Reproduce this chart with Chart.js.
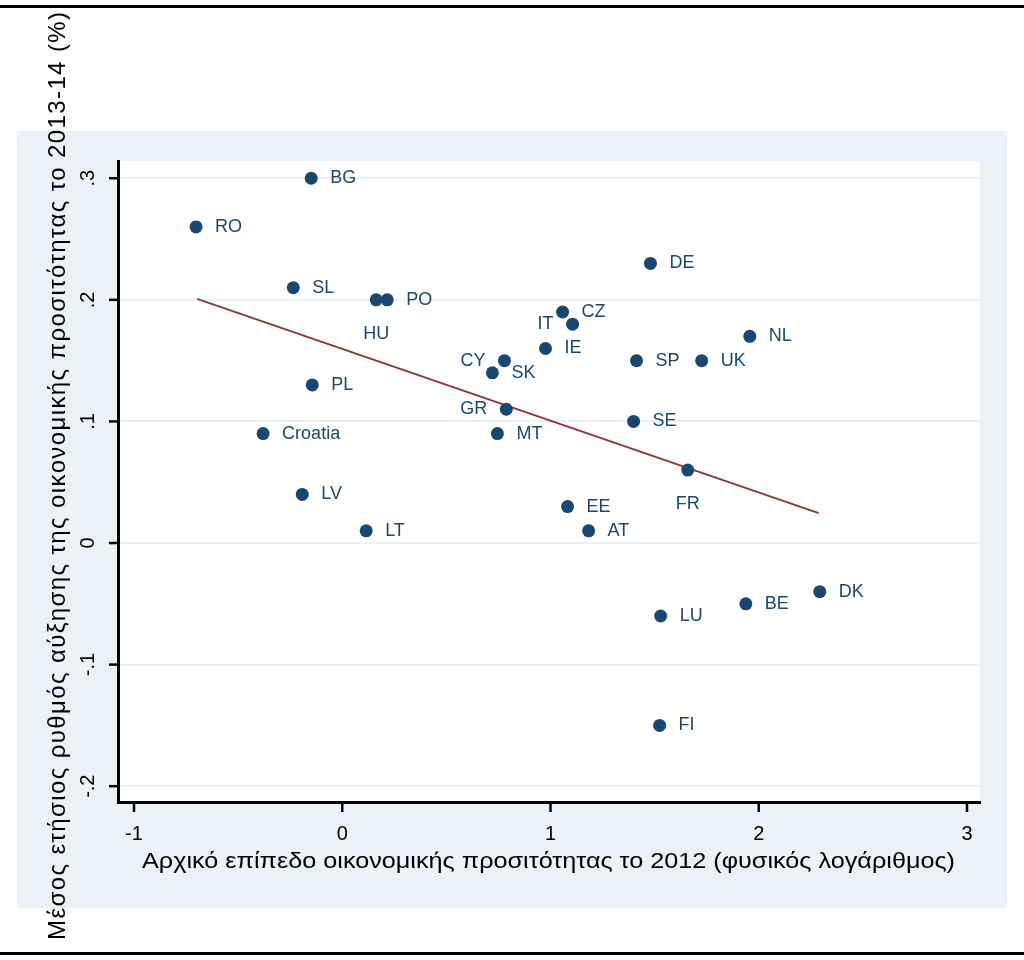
<!DOCTYPE html>
<html>
<head>
<meta charset="utf-8">
<script src="https://cdn.jsdelivr.net/npm/chart.js@4/dist/chart.umd.min.js"></script>
<style>
html,body{margin:0;padding:0;background:#fff;}
#wrap{width:1024px;height:960px;}
</style>
</head>
<body>
<div id="wrap"><canvas id="c" width="1024" height="960"></canvas></div>
<script>
// ---- data ----
const countries = ["BG","RO","SL","HU","PO","PL","Croatia","LV","LT","CY","SK","GR","MT","IE","CZ","IT","DE","SP","UK","NL","SE","FR","EE","AT","LU","BE","DK","FI"];
const xValues = [-0.149,-0.702,-0.235,0.163,0.216,-0.144,-0.380,-0.192,0.115,0.779,0.721,0.788,0.745,0.976,1.058,1.106,1.480,1.413,1.726,1.957,1.399,1.659,1.082,1.183,1.529,1.938,2.293,1.524];
const yValues = [0.30,0.26,0.21,0.20,0.20,0.13,0.09,0.04,0.01,0.15,0.14,0.11,0.09,0.16,0.19,0.18,0.23,0.15,0.15,0.17,0.10,0.06,0.03,0.01,-0.06,-0.05,-0.04,-0.15];
// label placement (clock position), like Stata's mlabvposition
const labelClock = [3,3,3,6,3,3,3,3,3,9,3,9,3,3,3,9,3,3,3,3,3,6,3,3,3,3,3,3];
const fitX = [-0.697, 2.288];
const fitY = [0.2008, 0.0246];
const xTicks = [-1,0,1,2,3];
const xTickLabels = ["-1","0","1","2","3"];
const yTicks = [0.3,0.2,0.1,0,-0.1,-0.2];
const yTickLabels = [".3",".2",".1","0","-.1","-.2"];
const xTitle = "Αρχικό επίπεδο οικονομικής προσιτότητας το 2012 (φυσικός λογάριθμος)";
const yTitle = "Μέσος ετήσιος ρυθμός αύξησης της οικονομικής προσιτότητας το 2013-14 (%)";

const NAVY = "#1a476f";
const MAROON = "#90353b";
const PANEL = "#eaf2f3";
const FONT = "'Liberation Sans', Arial, sans-serif";

const decor = {
  id: 'decor',
  beforeDraw(chart) {
    const ctx = chart.ctx, a = chart.chartArea;
    ctx.save();
    ctx.fillStyle = "#ffffff";
    ctx.fillRect(0,0,chart.width,chart.height);
    ctx.fillStyle = PANEL;
    ctx.fillRect(17,131,990,777);
    ctx.fillStyle = "#ffffff";
    ctx.fillRect(a.left,a.top,a.right-a.left,a.bottom-a.top);
    ctx.fillStyle = "#000";
    ctx.fillRect(0,5,1024,3);
    ctx.fillRect(0,952,1024,3);
    ctx.restore();
  },
  afterDraw(chart) {
    const ctx = chart.ctx, a = chart.chartArea;
    const xs = chart.scales.x, ys = chart.scales.y;
    ctx.save();
    ctx.strokeStyle = "#000";
    ctx.lineWidth = 2.5;
    ctx.fillStyle = "#000";
    ctx.font = "20px " + FONT;
    xTicks.forEach((v,i)=>{
      const px = xs.getPixelForValue(v);
      ctx.beginPath(); ctx.moveTo(px,a.bottom); ctx.lineTo(px,a.bottom+10); ctx.stroke();
      ctx.textAlign = "center"; ctx.textBaseline = "middle";
      ctx.fillText(xTickLabels[i], px, 834);
    });
    yTicks.forEach((v,i)=>{
      const py = ys.getPixelForValue(v);
      ctx.beginPath(); ctx.moveTo(a.left,py); ctx.lineTo(a.left-9,py); ctx.stroke();
      ctx.save();
      ctx.translate(88,py); ctx.rotate(-Math.PI/2);
      ctx.textAlign = "center"; ctx.textBaseline = "middle";
      ctx.fillText(yTickLabels[i],0,0);
      ctx.restore();
    });
    ctx.font = "22px " + FONT;
    ctx.textAlign = "left"; ctx.textBaseline = "alphabetic";
    const w = ctx.measureText(xTitle).width;
    ctx.save();
    ctx.translate(142,868);
    ctx.scale(813/w,1);
    ctx.fillText(xTitle,0,0);
    ctx.restore();
    ctx.font = "24px " + FONT;
    ctx.letterSpacing = "0px";
    const wy = ctx.measureText(yTitle).width;
    const target = 928;
    const extra = (target - wy) / (yTitle.length - 1);
    ctx.save();
    ctx.translate(65, 940);
    ctx.rotate(-Math.PI/2);
    ctx.textAlign = "left"; ctx.textBaseline = "alphabetic";
    if ('letterSpacing' in ctx) {
      ctx.letterSpacing = extra + "px";
      ctx.fillText(yTitle,0,0);
    } else {
      let x = 0;
      for (const ch of yTitle) { ctx.fillText(ch,x,0); x += ctx.measureText(ch).width + extra; }
    }
    ctx.restore();
    ctx.restore();
  },
  afterDatasetsDraw(chart) {
    const ctx = chart.ctx;
    const meta = chart.getDatasetMeta(1);
    ctx.save();
    ctx.fillStyle = NAVY;
    ctx.font = "18px " + FONT;
    ctx.textBaseline = "middle";
    meta.data.forEach((pt,i)=>{
      const c = labelClock[i];
      let x = pt.x, y = pt.y;
      if (c === 3) { ctx.textAlign = "left"; x += 19; }
      else if (c === 9) { ctx.textAlign = "right"; x -= 19; }
      else if (c === 6) { ctx.textAlign = "center"; y += 34; }
      ctx.fillText(countries[i], x, y);
    });
    ctx.restore();
  }
};

new Chart(document.getElementById('c'), {
  type: 'scatter',
  data: {
    datasets: [
      {
        type: 'line',
        data: fitX.map((x,i)=>({x:x,y:fitY[i]})),
        borderColor: MAROON,
        borderWidth: 2,
        pointRadius: 0,
        fill: false,
        order: 2
      },
      {
        data: xValues.map((x,i)=>({x:x,y:yValues[i]})),
        backgroundColor: NAVY,
        borderColor: NAVY,
        pointRadius: 6.5,
        pointBorderWidth: 0,
        order: 1
      }
    ]
  },
  options: {
    responsive: false,
    animation: false,
    devicePixelRatio: 1,
    layout: { padding: { left: 118, top: 161, right: 44, bottom: 158 } },
    plugins: { legend: { display: false }, tooltip: { enabled: false } },
    scales: {
      x: {
        type: 'linear', min: -1.0768, max: 3.0624,
        grid: { display: false, drawTicks: false },
        border: { display: true, color: '#000', width: 3 },
        ticks: { display: false },
        afterBuildTicks: (s)=>{ s.ticks = xTicks.map(v=>({value:v})); }
      },
      y: {
        type: 'linear', min: -0.213, max: 0.3142,
        grid: { display: true, color: PANEL, lineWidth: 2, drawTicks: false },
        border: { display: true, color: '#000', width: 3 },
        ticks: { display: false },
        afterBuildTicks: (s)=>{ s.ticks = yTicks.map(v=>({value:v})); }
      }
    }
  },
  plugins: [decor]
});
</script>
</body>
</html>
